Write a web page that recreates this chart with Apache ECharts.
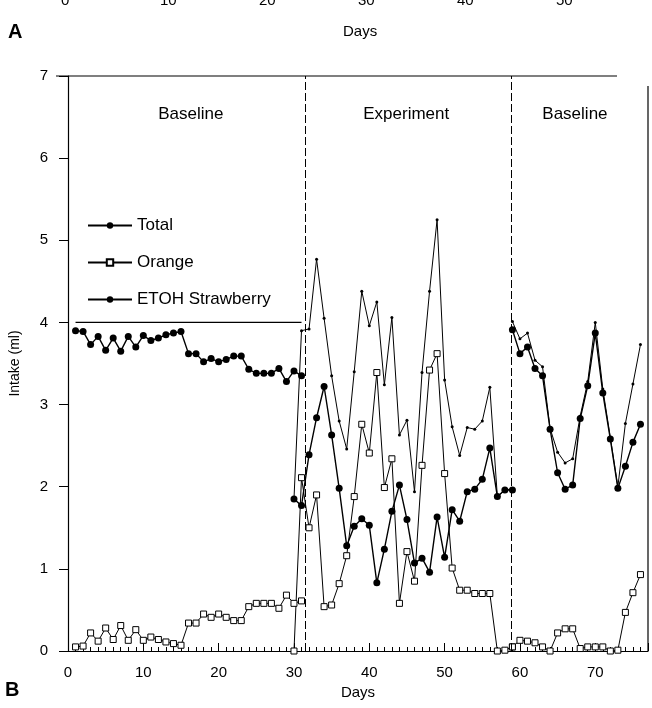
<!DOCTYPE html>
<html>
<head>
<meta charset="utf-8">
<script src="https://cdn.jsdelivr.net/npm/echarts@6/dist/echarts.min.js"></script>
<style>
  html, body { margin: 0; padding: 0; background: #fff; }
  #main { width: 652px; height: 708px; }
</style>
</head>
<body>
<div id="main"></div>
<script>
// phase 1 (baseline), days 1-31
var p1Days = [1, 2, 3, 4, 5, 6, 7, 8, 9, 10, 11, 12, 13, 14, 15, 16, 17, 18, 19, 20, 21, 22, 23, 24, 25, 26, 27, 28, 29, 30, 31]
var p1Total = [4.0, 4.0, 4.0, 4.0, 4.0, 4.0, 4.0, 4.0, 4.0, 4.0, 4.0, 4.0, 4.0, 4.0, 4.0, 4.0, 4.0, 4.0, 4.0, 4.0, 4.0, 4.0, 4.0, 4.0, 4.0, 4.0, 4.0, 4.0, 4.0, 4.0, 4.0]
var p1Orange = [0.05, 0.06, 0.22, 0.12, 0.28, 0.14, 0.31, 0.13, 0.26, 0.13, 0.17, 0.14, 0.11, 0.09, 0.07, 0.34, 0.34, 0.45, 0.41, 0.45, 0.41, 0.37, 0.37, 0.54, 0.58, 0.58, 0.58, 0.52, 0.68, 0.58, 0.61]
var p1Straw = [3.90, 3.89, 3.73, 3.83, 3.66, 3.81, 3.65, 3.83, 3.70, 3.84, 3.78, 3.81, 3.85, 3.87, 3.89, 3.62, 3.62, 3.52, 3.56, 3.52, 3.55, 3.59, 3.59, 3.43, 3.38, 3.38, 3.38, 3.44, 3.28, 3.41, 3.35]

// phase 2 (experiment), days 30-59
var p2Days = [30, 31, 32, 33, 34, 35, 36, 37, 38, 39, 40, 41, 42, 43, 44, 45, 46, 47, 48, 49, 50, 51, 52, 53, 54, 55, 56, 57, 58, 59]
var p2Total = [1.85, 3.90, 3.92, 4.77, 4.05, 3.35, 2.80, 2.46, 3.40, 4.38, 3.96, 4.25, 3.24, 4.06, 2.63, 2.81, 1.94, 3.39, 4.38, 5.25, 3.30, 2.73, 2.38, 2.72, 2.70, 2.80, 3.21, 1.88, 1.96, 1.97]
var p2Orange = [0.00, 2.11, 1.50, 1.90, 0.54, 0.56, 0.82, 1.16, 1.88, 2.76, 2.41, 3.39, 1.99, 2.34, 0.58, 1.21, 0.85, 2.26, 3.42, 3.62, 2.16, 1.01, 0.74, 0.74, 0.70, 0.70, 0.70, 0.00, 0.01, 0.05]
var p2Straw = [1.85, 1.77, 2.39, 2.84, 3.22, 2.63, 1.98, 1.28, 1.52, 1.61, 1.53, 0.83, 1.24, 1.70, 2.02, 1.60, 1.07, 1.13, 0.96, 1.63, 1.14, 1.72, 1.58, 1.94, 1.97, 2.09, 2.47, 1.88, 1.96, 1.96]

// phase 3 (baseline), days 59-76
var p3Days = [59, 60, 61, 62, 63, 64, 65, 66, 67, 68, 69, 70, 71, 72, 73, 74, 75, 76]
var p3Total = [4.01, 3.80, 3.87, 3.54, 3.46, 2.71, 2.42, 2.29, 2.34, 2.86, 3.28, 4.00, 3.19, 2.60, 2.00, 2.77, 3.25, 3.73]
var p3Orange = [0.05, 0.13, 0.12, 0.10, 0.05, 0.00, 0.22, 0.27, 0.27, 0.03, 0.05, 0.05, 0.05, 0.00, 0.01, 0.47, 0.71, 0.93]
var p3Straw = [3.91, 3.62, 3.70, 3.44, 3.35, 2.70, 2.17, 1.97, 2.02, 2.83, 3.23, 3.87, 3.14, 2.58, 1.98, 2.25, 2.54, 2.76]

var phaseLines = [31.5, 58.9]
var phaseNames = ['Baseline', 'Experiment', 'Baseline']
var phaseCenters = [16.3, 44.9, 67.3]
var topPanelTicks = ['0', '10', '20', '30', '40', '50']

var FONT = 'Liberation Sans, Arial, sans-serif'

function pairs (xs, ys) {
  return xs.map(function (x, i) { return [x, ys[i]] })
}

var styles = {
  'Total': { symbol: 'circle', symbolSize: 3, itemStyle: { color: '#000' }, lineStyle: { color: '#000', width: 1 } },
  'Orange': { symbol: 'rect', symbolSize: 6, itemStyle: { color: '#fff', borderColor: '#000', borderWidth: 1 }, lineStyle: { color: '#000', width: 1 } },
  'ETOH Strawberry': { symbol: 'circle', symbolSize: 7, itemStyle: { color: '#000' }, lineStyle: { color: '#000', width: 1.4 } }
}

function makeSeries (name, xs, ys) {
  var s = styles[name]
  return {
    name: name,
    type: 'line',
    data: pairs(xs, ys),
    symbol: s.symbol,
    symbolSize: s.symbolSize,
    showAllSymbol: true,
    itemStyle: s.itemStyle,
    lineStyle: s.lineStyle,
    animation: false,
    z: name === 'Orange' ? 4 : 3
  }
}

var series = [
  makeSeries('Total', p1Days, p1Total),
  makeSeries('Orange', p1Days, p1Orange),
  makeSeries('ETOH Strawberry', p1Days, p1Straw),
  makeSeries('Total', p2Days, p2Total),
  makeSeries('Orange', p2Days, p2Orange),
  makeSeries('ETOH Strawberry', p2Days, p2Straw),
  makeSeries('Total', p3Days, p3Total),
  makeSeries('Orange', p3Days, p3Orange),
  makeSeries('ETOH Strawberry', p3Days, p3Straw)
]

// baseline total is drawn as a plain line
series[0].symbolSize = 0
series[0].lineStyle = { color: '#000', width: 1.3 }

// phase dividers
series[0].markLine = {
  silent: true,
  symbol: 'none',
  label: { show: false },
  lineStyle: { color: '#000', type: [8, 3], width: 1 },
  data: phaseLines.map(function (d) { return { xAxis: d } })
}

// phase titles
series[1].markPoint = {
  symbol: 'rect',
  symbolSize: 1,
  silent: true,
  itemStyle: { color: 'rgba(0,0,0,0)' },
  label: { show: true, position: 'inside', color: '#000', fontSize: 17, fontFamily: FONT, formatter: '{b}' },
  data: phaseNames.map(function (n, i) { return { name: n, coord: [phaseCenters[i], 6.53] } })
}

var myChart = echarts.init(document.getElementById('main'))

var topTickX = [69, 168, 267, 366, 465, 564]
var graphics = topPanelTicks.map(function (t, i) {
  return { type: 'text', left: topTickX[i] - 8, top: -7, style: { text: t, font: '15px ' + FONT, fill: '#000', textAlign: 'center' } }
})
graphics.push({ type: 'text', left: 8, top: 22, style: { text: 'A', font: 'bold 20px ' + FONT, fill: '#000' } })
graphics.push({ type: 'text', left: 343, top: 24, style: { text: 'Days', font: '15px ' + FONT, fill: '#000' } })
graphics.push({ type: 'text', left: 5, top: 680, style: { text: 'B', font: 'bold 20px ' + FONT, fill: '#000' } })
// frame top and right
graphics.push({ type: 'line', shape: { x1: 56, y1: 76, x2: 617, y2: 76 }, style: { stroke: '#000', lineWidth: 1.2 } })
graphics.push({ type: 'line', shape: { x1: 648, y1: 86, x2: 648, y2: 651 }, style: { stroke: '#000', lineWidth: 1.2 } })

myChart.setOption({
  backgroundColor: '#fff',
  animation: false,
  grid: { left: 66, right: 4, top: 76, bottom: 57 },
  legend: {
    data: ['Total', 'Orange', 'ETOH Strawberry'],
    orient: 'vertical',
    left: 82,
    top: 212,
    itemWidth: 44,
    itemHeight: 8,
    itemGap: 20,
    textStyle: { color: '#000', fontSize: 17, fontFamily: FONT }
  },
  xAxis: {
    type: 'value',
    min: 0,
    max: 77,
    interval: 10,
    name: 'Days',
    nameLocation: 'middle',
    nameGap: 34,
    nameTextStyle: { color: '#000', fontSize: 15, fontFamily: FONT },
    axisLine: { lineStyle: { color: '#000', width: 1.2 } },
    axisTick: { inside: true, length: 8, lineStyle: { color: '#000' } },
    minorTick: { show: true, splitNumber: 10, length: 4, lineStyle: { color: '#000' } },
    axisLabel: { color: '#000', fontSize: 15, fontFamily: FONT, margin: 14,
      showMaxLabel: false },
    splitLine: { show: false }
  },
  yAxis: {
    type: 'value',
    min: 0,
    max: 7,
    interval: 1,
    name: 'Intake (ml)',
    nameLocation: 'middle',
    nameGap: 46,
    nameTextStyle: { color: '#000', fontSize: 14, fontFamily: FONT },
    axisLine: { show: true, lineStyle: { color: '#000', width: 1.2 } },
    axisTick: { show: true, length: 9, lineStyle: { color: '#000' } },
    axisLabel: { color: '#000', fontSize: 15, fontFamily: FONT, margin: 20 },
    splitLine: { show: false }
  },
  graphic: graphics,
  series: series
})
</script>
</body>
</html>
